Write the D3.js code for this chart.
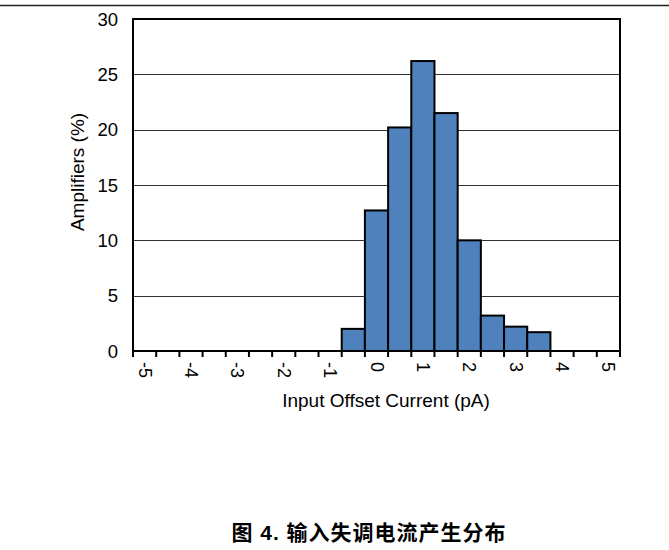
<!DOCTYPE html>
<html><head><meta charset="utf-8">
<script src="https://cdn.jsdelivr.net/npm/d3@7"></script>
<style>body{margin:0;background:#fff}svg{display:block}</style>
</head><body>
<script>
const categories = ["-5","-4.5","-4","-3.5","-3","-2.5","-2","-1.5","-1","-0.5","0","0.5","1","1.5","2","2.5","3","3.5","4","4.5","5"];
const values = [0,0,0,0,0,0,0,0,0,2.0,12.7,20.2,26.2,21.5,10.0,3.2,2.2,1.7,0,0,0];
const xTickLabels = ["-5","-4","-3","-2","-1","0","1","2","3","4","5"];
const yTicks = [0,5,10,15,20,25,30];

const W=669,H=550;
const svg=d3.select("body").append("svg").attr("width",W).attr("height",H);
const L=133,R=620,T=19,B=351;
const font="Liberation Sans, Arial, sans-serif";

svg.append("line").attr("x1",0).attr("x2",W).attr("y1",5.5).attr("y2",5.5).attr("stroke","#222").attr("stroke-width",1.3);

const x=d3.scaleBand().domain(categories).range([L,R]).padding(0);
const y=d3.scaleLinear().domain([0,30]).range([B,T]);

svg.append("g").selectAll("line").data(yTicks.filter(d=>d>0&&d<30)).join("line")
  .attr("x1",L).attr("x2",R).attr("y1",d=>Math.round(y(d))+0.5).attr("y2",d=>Math.round(y(d))+0.5)
  .attr("stroke","#333").attr("stroke-width",1);

svg.append("g").selectAll("rect").data(categories.map((c,i)=>({c,v:values[i]})).filter(d=>d.v>0)).join("rect")
  .attr("x",d=>x(d.c)).attr("width",x.bandwidth()).attr("y",d=>y(d.v)).attr("height",d=>y(0)-y(d.v))
  .attr("fill","#4f81bd").attr("stroke","#000").attr("stroke-width",2);

svg.append("rect").attr("x",L).attr("y",T).attr("width",R-L).attr("height",B-T)
  .attr("fill","none").attr("stroke","#000").attr("stroke-width",2);

const bounds=d3.range(categories.length+1).map(i=>L+i*x.bandwidth());
svg.append("g").selectAll("line").data(bounds).join("line")
  .attr("x1",d=>d).attr("x2",d=>d).attr("y1",B).attr("y2",B+6)
  .attr("stroke","#000").attr("stroke-width",2);

svg.append("g").selectAll("text").data(xTickLabels).join("text")
  .attr("transform",d=>`translate(${x(d)+x.bandwidth()/2},${B+11}) rotate(90)`)
  .attr("text-anchor","start").attr("dominant-baseline","central")
  .attr("font-family",font).attr("font-size",18).text(d=>d);

svg.append("g").selectAll("text").data(yTicks).join("text")
  .attr("x",118).attr("y",d=>y(d)).attr("text-anchor","end").attr("dominant-baseline","central")
  .attr("font-family",font).attr("font-size",18.5).text(d=>d);

svg.append("text").attr("transform",`translate(77,172) rotate(-90)`)
  .attr("text-anchor","middle").attr("dominant-baseline","central")
  .attr("font-family",font).attr("font-size",19).text("Amplifiers (%)");

svg.append("text").attr("x",386).attr("y",407).attr("text-anchor","middle")
  .attr("font-family",font).attr("font-size",19).text("Input Offset Current (pA)");

svg.append("text").attr("x",369).attr("y",540).attr("text-anchor","middle")
  .attr("font-family","Liberation Sans, Noto Sans CJK SC, sans-serif").attr("font-weight","bold").attr("font-size",21)
  .attr("letter-spacing",1)
  .text("图 4. 输入失调电流产生分布");
</script>
</body></html>
